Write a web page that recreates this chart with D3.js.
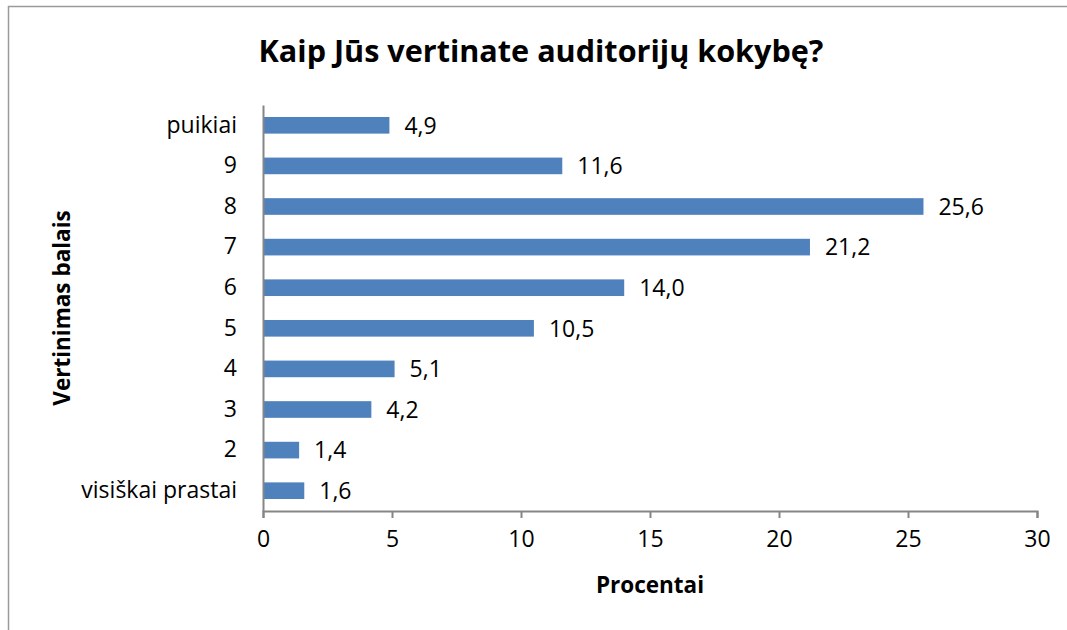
<!DOCTYPE html>
<html>
<head>
<meta charset="utf-8">
<script src="https://cdn.jsdelivr.net/npm/d3@7"></script>
<style>
  body { margin: 0; background: #fff; }
  text { font-family: "Open Sans", sans-serif; fill: #000; }
</style>
</head>
<body>
<div id="chart"></div>
<script>
var categories = ["puikiai", "9", "8", "7", "6", "5", "4", "3", "2", "visiškai prastai"];
var values = [4.9, 11.6, 25.6, 21.2, 14.0, 10.5, 5.1, 4.2, 1.4, 1.6];
var xTicks = [0, 5, 10, 15, 20, 25, 30];

var svgWidth = 1067;
var svgHeight = 630;

var margin = { top: 105, right: 30, bottom: 119, left: 263 };
var width = 1037 - margin.left;
var height = 511 - margin.top;

var svg = d3.select("#chart")
  .append("svg")
  .attr("width", svgWidth)
  .attr("height", svgHeight);

// outer chart border (left + top visible)
svg.append("path")
  .attr("d", "M8.5,640 L8.5,6.5 L1070,6.5")
  .attr("fill", "none")
  .attr("stroke", "#9a9a9a")
  .attr("stroke-width", 1.5);

var chartGroup = svg.append("g")
  .attr("transform", `translate(${margin.left}, ${margin.top})`);

var xScale = d3.scaleLinear()
  .domain([0, 30])
  .range([0, width]);

var yScale = d3.scaleBand()
  .domain(categories)
  .range([0, height])
  .paddingInner(0.59)
  .paddingOuter(0.295);

// bars
chartGroup.selectAll("rect.bar")
  .data(values)
  .enter()
  .append("rect")
  .attr("class", "bar")
  .attr("x", 0)
  .attr("y", (d, i) => yScale(categories[i]))
  .attr("width", d => xScale(d))
  .attr("height", yScale.bandwidth())
  .attr("fill", "#4f81bd");

// value labels
chartGroup.selectAll("text.val")
  .data(values)
  .enter()
  .append("text")
  .attr("class", "val")
  .attr("x", d => xScale(d) + 15)
  .attr("y", (d, i) => yScale(categories[i]) + yScale.bandwidth() / 2)
  .attr("dy", "0.36em")
  .style("font-size", "23px")
  .text(d => d.toFixed(1).replace(".", ","));

// x axis
var bottomAxis = d3.axisBottom(xScale)
  .tickValues(xTicks)
  .tickSize(7)
  .tickPadding(13)
  .tickSizeOuter(7);

var xAxis = chartGroup.append("g")
  .attr("transform", `translate(0, ${height})`)
  .call(bottomAxis);

xAxis.selectAll("path, line")
  .attr("stroke", "#868686")
  .attr("stroke-width", 2);
xAxis.selectAll("text")
  .style("font-size", "23px")
  .style("font-family", "'Open Sans', sans-serif")
  .attr("fill", "#000");

// y axis
var leftAxis = d3.axisLeft(yScale)
  .tickSize(0)
  .tickPadding(26);

var yAxis = chartGroup.append("g")
  .call(leftAxis);

yAxis.select("path")
  .attr("stroke", "#868686")
  .attr("stroke-width", 2);
yAxis.selectAll("text")
  .style("font-size", "23px")
  .style("font-family", "'Open Sans', sans-serif")
  .attr("fill", "#000");

// title
var title = svg.append("text")
  .attr("x", 541)
  .attr("y", 62)
  .attr("text-anchor", "middle")
  .style("font-weight", "bold")
  .style("font-size", "30px")
  .text("Kaip Jūs vertinate auditorijų kokybę?");

// scale title font to match width of original
var tw = title.node().getComputedTextLength();
title.style("font-size", (30 * 565 / tw) + "px");

// axis titles
svg.append("text")
  .attr("x", 650)
  .attr("y", 593)
  .attr("text-anchor", "middle")
  .style("font-weight", "bold")
  .style("font-size", "22.5px")
  .text("Procentai");

svg.append("text")
  .attr("transform", "translate(70, 308) rotate(-90)")
  .attr("text-anchor", "middle")
  .style("font-weight", "bold")
  .style("font-size", "22.5px")
  .text("Vertinimas balais");
</script>
</body>
</html>
